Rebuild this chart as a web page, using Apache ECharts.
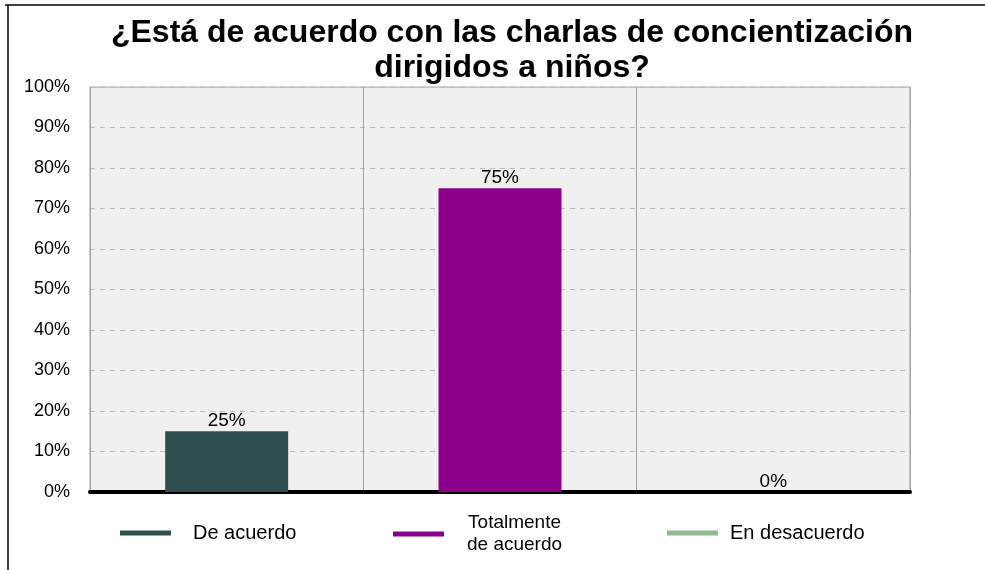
<!DOCTYPE html>
<html>
<head>
<meta charset="utf-8">
<script src="https://cdn.jsdelivr.net/npm/echarts@6/dist/echarts.min.js"></script>
<style>html,body{margin:0;padding:0;background:#fff;}#c{width:985px;height:570px;}</style>
</head>
<body>
<div id="c"></div>
<script>
var categories = ['De acuerdo', 'Totalmente de acuerdo', 'En desacuerdo'];
var seriesNames = ['De acuerdo', 'Totalmente de acuerdo', 'En desacuerdo'];
var barValues = [15, 75, 0];
var barLabels = ['25%', '75%', '0%'];
var colors = ['#2f4f4f', '#8b008b', '#8fbc8f'];
var yTicks = ['0%','10%','20%','30%','40%','50%','60%','70%','80%','90%','100%'];
var titleText = '¿Está de acuerdo con las charlas de concientización\ndirigidos a niños?';

var chart = echarts.init(document.getElementById('c'));
var series = seriesNames.map(function (name, i) {
  var d = categories.map(function (c, j) { return j === i ? barValues[i] : '-'; });
  return {
    name: name, type: 'bar', data: d, barWidth: '45%', barGap: '-100%',
    itemStyle: { color: colors[i] },
    label: { show: true, position: 'top', distance: 1, color: '#000', fontSize: 19,
      fontFamily: 'Liberation Sans', formatter: function () { return barLabels[i]; } }
  };
});
var legendLefts = [115, 388, 662];
var legendPads = [17, 18, 7];
var legends = seriesNames.map(function (name, i) {
  return {
    data: [name], left: legendLefts[i], top: i === 1 ? 507 : 517,
    icon: 'rect', itemWidth: 51, itemHeight: 5,
    formatter: function (n) { return n === 'Totalmente de acuerdo' ? '{c|Totalmente}\n{c|de acuerdo}' : n; },
    textStyle: { fontSize: 20, color: '#000', fontFamily: 'Liberation Sans', padding: [0, 0, 0, legendPads[i]], lineHeight: 22,
      rich: { c: { fontSize: 19, fontFamily: 'Liberation Sans', color: '#000', align: 'center', lineHeight: 22 } } },
    selectedMode: false
  };
});
chart.setOption({
  animation: false,
  backgroundColor: '#fff',
  title: { text: titleText, left: 507, textAlign: 'center', top: 11,
    textStyle: { fontSize: 32, fontWeight: 'bold', color: '#000', fontFamily: 'Liberation Sans', lineHeight: 35 } },
  legend: legends,
  grid: { left: 90, right: 75, top: 87, bottom: 78, show: true, backgroundColor: '#f0f0f0', borderColor: '#a0a0a0', borderWidth: 1 },
  xAxis: { type: 'category', data: categories,
    axisLine: { show: true, lineStyle: { color: '#000', width: 4 } },
    axisTick: { show: false }, axisLabel: { show: false },
    splitLine: { show: true, lineStyle: { color: '#a0a0a0', width: 1 } } },
  yAxis: { type: 'value', min: 0, max: 100, interval: 10,
    axisLine: { show: false }, axisTick: { show: false },
    axisLabel: { margin: 20, fontSize: 18, color: '#000', fontFamily: 'Liberation Sans',
      formatter: function (v) { return yTicks[Math.round(v / 10)]; } },
    splitLine: { show: true, lineStyle: { color: '#bdbdbd', type: [5, 5], width: 1 } } },
  series: series,
  graphic: [
    { type: 'line', shape: { x1: 5, y1: 5, x2: 985, y2: 5 }, style: { stroke: '#000', lineWidth: 1.5 } },
    { type: 'line', shape: { x1: 8, y1: 5, x2: 8, y2: 570 }, style: { stroke: '#000', lineWidth: 1.5 } }
  ]
});
</script>
</body>
</html>
